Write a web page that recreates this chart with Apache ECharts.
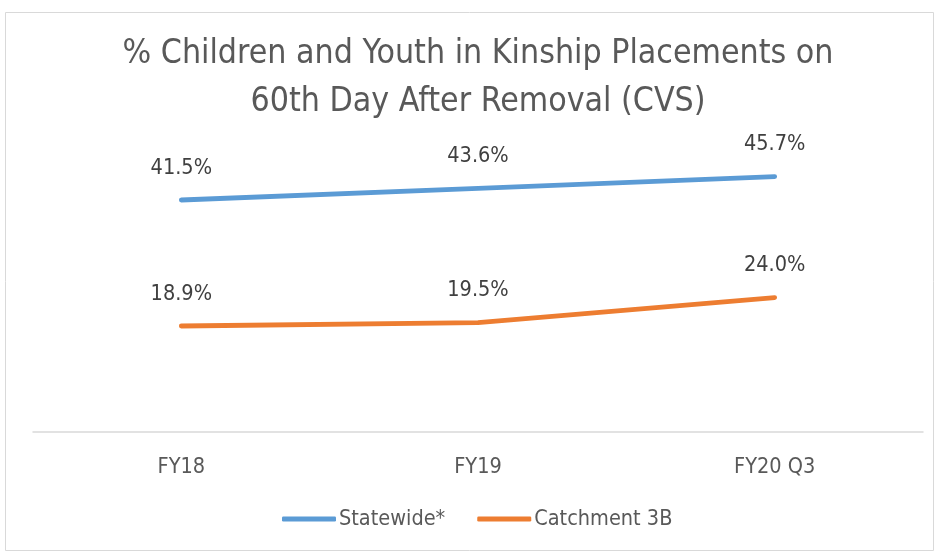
<!DOCTYPE html>
<html><head><meta charset="utf-8">
<script src="https://cdn.jsdelivr.net/npm/echarts@6/dist/echarts.min.js"></script>
<style>html,body{margin:0;padding:0;background:#fff}#c{width:938px;height:552px}</style>
</head><body><div id="c"></div>
<script>
const categories = ['FY18', 'FY19', 'FY20 Q3'];
const statewide = [41.5, 43.6, 45.7];
const catchment = [18.9, 19.5, 24.0];
const seriesNames = ['Statewide*', 'Catchment 3B'];
const titleText = '% Children and Youth in Kinship Placements on\n60th Day After Removal (CVS)';

const FONT = '"Liberation Sans Narrow", "DejaVu Sans Condensed", "Liberation Sans", sans-serif';
const chart = echarts.init(document.getElementById('c'));
const lbl = {show: true, position: 'top', distance: 20, formatter: p => p.value.toFixed(1) + '%', fontFamily: FONT, fontSize: 21.5, color: '#404040'};
chart.setOption({
  backgroundColor: '#fff',
  animation: false,
  graphic: [{type: 'rect', shape: {x: 5.5, y: 12.5, width: 928, height: 538}, style: {fill: 'none', stroke: '#D9D9D9', lineWidth: 1}}],
  title: {text: titleText, left: 473, textAlign: 'center', top: 25,
    textStyle: {fontFamily: FONT, fontSize: 33.6, fontWeight: 'normal', color: '#595959', lineHeight: 48}},
  legend: {top: 503, left: 277, itemWidth: 54, itemHeight: 5, itemGap: 32,
    textStyle: {fontFamily: FONT, fontSize: 21.5, color: '#595959', padding: [0, 0, 0, -2]},
    data: seriesNames.map(n => ({name: n, icon: 'roundRect'}))},
  grid: {left: 33, right: 15, top: 152.6, bottom: 120.6},
  xAxis: {type: 'category', data: categories, boundaryGap: true,
    axisLine: {lineStyle: {color: '#D9D9D9', width: 1.5}}, axisTick: {show: false},
    axisLabel: {fontFamily: FONT, fontSize: 21.5, color: '#595959', margin: 25}},
  yAxis: {type: 'value', min: 0, max: 50, show: false, splitLine: {show: false}},
  series: [
    {name: seriesNames[0], type: 'line', data: statewide, symbol: 'circle', symbolSize: 2, lineStyle: {color: '#5B9BD5', width: 4.8, cap: 'round'}, itemStyle: {color: '#5B9BD5'}, label: lbl},
    {name: seriesNames[1], type: 'line', data: catchment, symbol: 'circle', symbolSize: 2, lineStyle: {color: '#ED7D31', width: 4.8, cap: 'round'}, itemStyle: {color: '#ED7D31'}, label: lbl}
  ]
});
</script></body></html>
